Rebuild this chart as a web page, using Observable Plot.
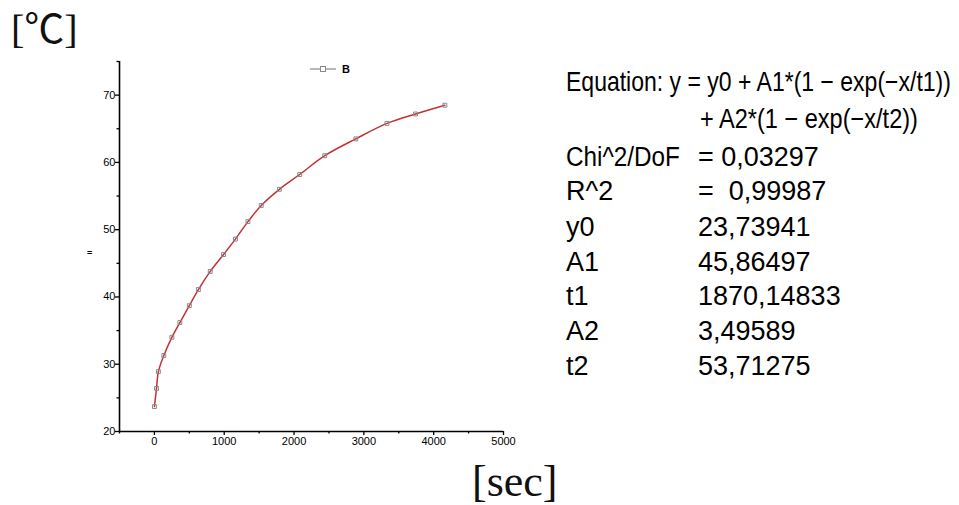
<!DOCTYPE html>
<html>
<head>
<meta charset="utf-8">
<script src="https://cdn.jsdelivr.net/npm/d3@7"></script>
<script src="https://cdn.jsdelivr.net/npm/@observablehq/plot@0.6"></script>
<style>
  html, body { margin: 0; padding: 0; background: #ffffff; }
  #chart { position: relative; width: 959px; height: 505px; }
</style>
</head>
<body>
<div id="chart"></div>
<script>
// ---- data ----
const timeSec = [0, 30, 57, 135, 250, 365, 500, 630, 800, 990, 1160, 1340, 1530, 1790, 2080, 2440, 2885, 3330, 3740, 4160];
const tempC   = [23.7, 26.4, 28.9, 31.3, 34.0, 36.2, 38.7, 41.1, 43.8, 46.3, 48.6, 51.2, 53.6, 56.0, 58.2, 61.0, 63.5, 65.8, 67.2, 68.5];
const xTicks = [0, 1000, 2000, 3000, 4000, 5000];
const xMinorTicks = [-500, 500, 1500, 2500, 3500, 4500];
const yTicks = [20, 30, 40, 50, 60, 70];
const yMinorTicks = [25, 35, 45, 55, 65, 75];
const seriesName = "B";
const equationLines = ["Equation: y = y0 + A1*(1 − exp(−x/t1))", "+ A2*(1 − exp(−x/t2))"];
const paramLabels = ["Chi^2/DoF", "R^2", "y0", "A1", "t1", "A2", "t2"];
const paramValues = ["= 0,03297", "=  0,99987", "23,73941", "45,86497", "1870,14833", "3,49589", "53,71275"];
const yUnit = "[℃]";
const xUnit = "[sec]";

const data = timeSec.map((t, i) => ({t, v: tempC[i]}));
const plain = d => String(d);

const plot = Plot.plot({
  width: 959,
  height: 505,
  marginLeft: 119,
  marginRight: 456,
  marginTop: 61,
  marginBottom: 74,
  style: {fontFamily: "Liberation Sans, Arial, sans-serif", fontSize: "11px", background: "#ffffff", color: "#000"},
  x: {domain: [-500, 5000]},
  y: {domain: [20, 75]},
  marks: [
    Plot.axisX(xTicks, {tickSize: 4, tickPadding: 2, tickFormat: plain, label: null, strokeWidth: 1.3, fontSize: 11}),
    Plot.axisX(xMinorTicks, {tickSize: 2.5, tickFormat: () => "", label: null, strokeWidth: 1.3}),
    Plot.axisY(yTicks, {tickSize: 4, tickPadding: 0, tickFormat: plain, label: null, strokeWidth: 1.3, fontSize: 11}),
    Plot.axisY(yMinorTicks, {tickSize: 2.5, tickFormat: () => "", label: null, strokeWidth: 1.3}),
    Plot.ruleY([20], {stroke: "#000", strokeWidth: 1.6}),
    Plot.ruleX([-500], {stroke: "#000", strokeWidth: 1.6}),
    Plot.line(data, {x: "t", y: "v", stroke: "#bf3333", strokeWidth: 1.5, curve: "catmull-rom"}),
    Plot.dot(data, {x: "t", y: "v", symbol: "square", r: 2.2, stroke: "#8a8a8a", strokeWidth: 1, fill: "none"})
  ]
});

document.getElementById("chart").appendChild(plot);

const svg = d3.select(plot);
const sans = "Liberation Sans, Arial, sans-serif";
const serif = "Liberation Serif, 'Noto Sans CJK KR', serif";
const ann = svg.append("g").attr("text-anchor", "start");

// legend
ann.append("line").attr("x1", 310).attr("x2", 336).attr("y1", 69).attr("y2", 69).attr("stroke", "#8a8a8a").attr("stroke-width", 1.2);
ann.append("rect").attr("x", 320.5).attr("y", 66.5).attr("width", 5).attr("height", 5).attr("fill", "#fff").attr("stroke", "#8a8a8a");
ann.append("text").attr("x", 342).attr("y", 73).text(seriesName)
  .attr("font-family", sans).attr("font-size", 11).attr("font-weight", "bold");

// tiny axis title as in the reference
ann.append("text").attr("x", 87).attr("y", 256).text("=")
  .attr("font-family", sans).attr("font-size", 9).attr("font-weight", "bold");

// unit labels
ann.append("text").attr("x", 11).attr("y", 43).text(yUnit)
  .attr("font-family", serif).attr("font-size", 40).attr("fill", "#111");
ann.append("text").attr("x", 472).attr("y", 496).text(xUnit)
  .attr("font-family", serif).attr("font-size", 44).attr("fill", "#111");

// text squeezed horizontally to a target width (the reference uses a narrow font)
function squeezed(str, x, y, width) {
  const t = ann.append("text").attr("x", 0).attr("y", 0).text(str)
    .attr("font-family", sans).attr("font-size", 27);
  const len = t.node().getComputedTextLength();
  const s = width && len > 0 ? Math.min(1, width / len) : 1;
  t.attr("transform", `translate(${x},${y}) scale(${s},1)`);
  return t;
}

// equation block
squeezed(equationLines[0], 566, 91, 385);
squeezed(equationLines[1], 700, 128, 218);

const rowBase = [166, 200, 236, 271, 305, 340, 375];
paramLabels.forEach((lab, i) => {
  squeezed(lab, 566, rowBase[i], i === 0 ? 114 : null);
  squeezed(paramValues[i], 698, rowBase[i], null);
});
</script>
</body>
</html>
